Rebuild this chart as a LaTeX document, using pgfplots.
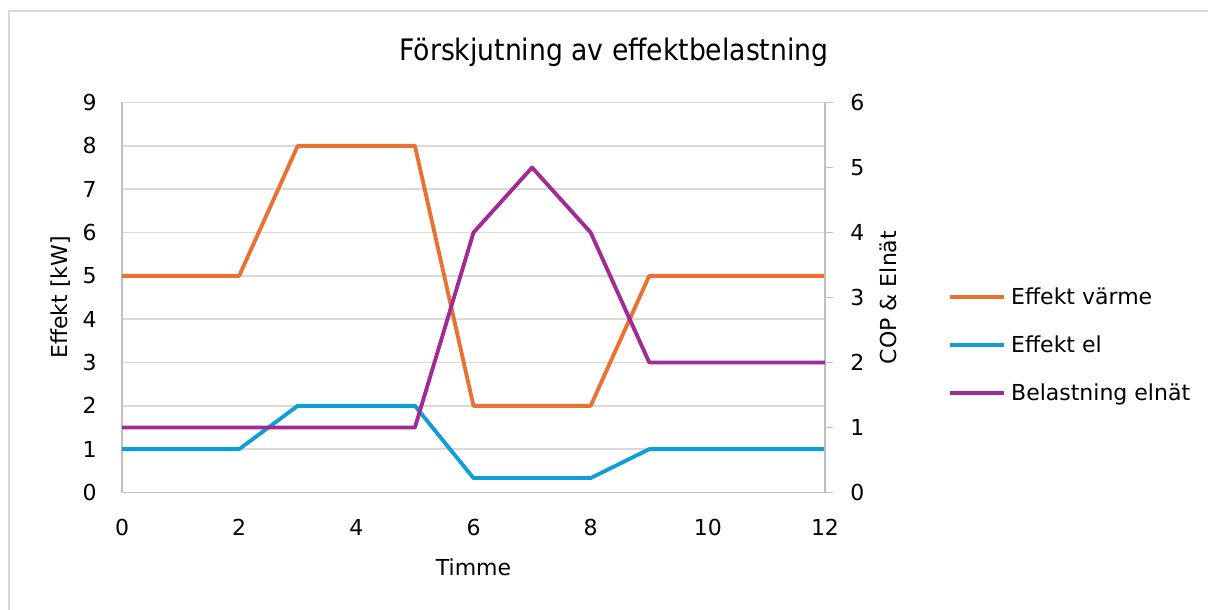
\documentclass[border=0pt]{standalone}
\usepackage{fontspec}
\setmainfont{DejaVu Sans}
\newfontfamily\titlefont{DejaVu Sans Condensed}
\usepackage{pgfplots}
\pgfplotsset{compat=1.18}
\definecolor{cOrange}{HTML}{E97132}
\definecolor{cBlue}{HTML}{0F9ED5}
\definecolor{cPurple}{HTML}{A02B93}
\definecolor{gridgray}{HTML}{D9D9D9}
\definecolor{axgray}{HTML}{BFBFBF}
\definecolor{framegray}{HTML}{D9D9D9}
\begin{document}
\begin{tikzpicture}[x=0.75pt,y=0.75pt]
\useasboundingbox (0,0) rectangle (1208,610);
\draw[framegray, line width=1.5pt] (8.7,-10) -- (8.7,599.3) -- (1220,599.3);
\node[font=\titlefont\fontsize{22.2}{22.2}\selectfont, anchor=base, inner sep=0pt] at (614,549.3) {Förskjutning av effektbelastning};
\pgfplotsset{
  base/.style={
    at={(91.5pt,88.125pt)}, anchor=south west, scale only axis,
    width=527.25pt, height=292.5pt,
    xmin=0, xmax=12,
    /pgf/number format/assume math mode=true,
    tick label style={font=\fontsize{16.5}{16.5}\selectfont, inner sep=0pt},
    label style={font=\fontsize{16.5}{16.5}\selectfont, inner sep=0pt},
    axis line style={draw=axgray, line width=1.2pt},
    clip=false,
  }
}
\begin{axis}[base,
  ymin=0, ymax=9,
  xtick={0,2,...,12}, ytick={0,1,...,9},
  axis x line*=bottom, axis y line*=left,
  major tick length=0pt,
  ymajorgrids, major grid style={draw=gridgray, line width=1.1pt},
  yticklabel style={anchor=east, xshift=-18.75pt},
  xticklabel style={anchor=north, yshift=-20pt},
  ylabel={Effekt [kW]},
  ylabel style={at={(axis description cs:-0.0868,0.5)}, anchor=center, rotate=0},
  xlabel={Timme},
  xlabel style={at={(axis description cs:0.5,-0.1705)}, anchor=north},
]
\addplot[cOrange, line width=2.9pt, line join=round] coordinates {(0,5)(1,5)(2,5)(3,8)(4,8)(5,8)(6,2)(7,2)(8,2)(9,5)(10,5)(11,5)(12,5)};
\addplot[cBlue, line width=2.9pt, line join=round] coordinates {(0,1)(1,1)(2,1)(3,2)(4,2)(5,2)(6,0.333)(7,0.333)(8,0.333)(9,1)(10,1)(11,1)(12,1)};
\end{axis}
\begin{axis}[base,
  ymin=0, ymax=6,
  ytick={0,1,...,6},
  axis x line=none, axis y line*=right,
  tick align=outside, major tick length=6pt,
  ytick style={draw=axgray, line width=1.2pt},
  yticklabel style={anchor=west, xshift=12.75pt},
  ylabel={COP \& Elnät},
  ylabel style={at={(axis description cs:1.0896,0.5)}, anchor=center, rotate=0},
  legend style={at={(axis description cs:1.175,0.523)}, anchor=north west, draw=none, fill=none, inner sep=0pt,
    font=\fontsize{16.5}{16.5}\selectfont, row sep=24pt, column sep=3.75pt,
    nodes={inner sep=0pt, text height=12pt, text depth=0pt}},
  legend cell align=left,
  legend image code/.code={\draw[#1, line width=2.9pt] (0pt,0pt) -- (40.5pt,0pt);},
]
\addlegendimage{cOrange}
\addlegendentry{Effekt värme}
\addlegendimage{cBlue}
\addlegendentry{Effekt el}
\addplot[cPurple, line width=2.9pt, line join=round] coordinates {(0,1)(1,1)(2,1)(3,1)(4,1)(5,1)(6,4)(7,5)(8,4)(9,2)(10,2)(11,2)(12,2)};
\addlegendentry{Belastning elnät}
\end{axis}
\end{tikzpicture}
\end{document}
